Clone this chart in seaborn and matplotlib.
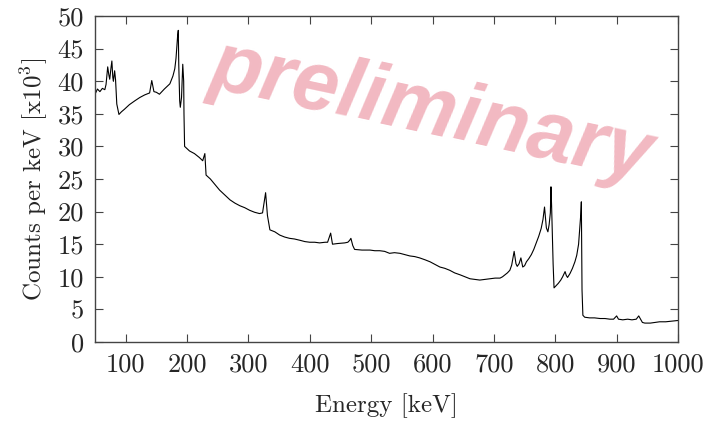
import matplotlib
matplotlib.use("Agg")
import matplotlib.pyplot as plt
import seaborn as sns
import pandas as pd

energy = [50, 54, 58, 62, 66, 68, 70.7, 72.5, 74, 76, 77.5, 79, 80, 82, 83.5, 85.5, 89, 93, 98, 106,
          115, 123, 131, 139, 142.5, 146, 150, 155, 163, 172, 177, 180, 182, 183.5, 184.5, 185.7,
          186.5, 188, 189, 191, 193, 194.5, 195, 196, 204, 212, 220, 225.5, 229, 231, 238, 245,
          253, 261, 270, 278, 286, 294, 302, 310, 318, 323, 328, 331, 335, 343, 351, 359, 367,
          375, 384, 392, 400, 408, 416, 425, 429, 434, 437, 445, 457, 462, 465, 467, 470, 473, 485,
          498, 506, 514, 522, 530, 538, 547, 555, 563, 571, 579, 588, 596, 604, 612, 620, 628,
          636, 645, 653, 661, 669, 677, 685, 694, 702, 710, 714, 718, 722, 726, 729, 733, 736,
          738, 741, 744, 747, 750, 753, 757, 761, 765, 769, 773, 777, 780, 782.5, 784, 785.5,
          788, 790, 792, 793, 794, 795, 796.5, 798, 801, 805, 809, 812, 816, 818, 820, 824, 828,
          832, 835, 838, 840, 841.5, 842.5, 843.6, 845, 848, 856, 864, 873, 881, 889, 895, 900,
          903, 910, 918, 925, 932, 936, 939, 942, 946, 955, 962, 970, 980, 990, 1000]
counts = [38.0, 38.8, 38.4, 38.9, 38.7, 39.5, 42.2, 41.0, 40.3, 42.0, 43.1, 40.6, 40.0, 41.6, 40.2,
          36.5, 34.9, 35.3, 35.7, 36.4, 37.0, 37.5, 37.9, 38.2, 40.1, 38.4, 38.3, 38.0, 38.8, 39.6,
          40.8, 41.9, 43.5, 45.5, 46.8, 47.8, 42.5, 37.0, 36.0, 37.5, 42.6, 40.0, 35.0, 30.0, 29.3,
          28.9, 28.3, 27.8, 28.9, 25.6, 25.0, 24.2, 23.3, 22.6, 21.8, 21.3, 20.9, 20.6, 20.2, 19.9,
          19.7, 19.8, 22.9, 19.4, 17.2, 16.9, 16.4, 16.1, 15.9, 15.8, 15.6, 15.4, 15.3, 15.3, 15.2,
          15.3, 15.3, 16.7, 15.0, 15.1, 15.2, 15.3, 15.6, 15.9, 14.8, 14.2, 14.1, 14.1, 14.0,
          14.0, 13.9, 13.6, 13.7, 13.6, 13.4, 13.2, 13.1, 12.9, 12.6, 12.3, 11.9, 11.5, 11.3,
          11.0, 10.6, 10.3, 10.0, 9.7, 9.6, 9.5, 9.6, 9.7, 9.8, 9.8, 10.0, 10.3, 10.6, 11.0, 11.8,
          13.9, 12.0, 11.6, 12.0, 12.9, 11.5, 11.7, 12.3, 12.8, 13.4, 14.2, 15.2, 16.2, 17.4,
          18.8, 20.7, 19.0, 17.5, 16.9, 18.0, 19.8, 23.8, 21.0, 17.5, 12.0, 8.3, 8.6, 9.0, 9.5,
          10.0, 10.8, 10.2, 9.9, 10.5, 11.3, 12.3, 13.3, 15.0, 17.5, 19.5, 21.5, 8.0, 4.1, 3.8,
          3.7, 3.7, 3.6, 3.6, 3.5, 3.5, 4.0, 3.5, 3.4, 3.5, 3.4, 3.5, 4.0, 3.5, 3.0, 2.9, 2.9,
          3.0, 3.1, 3.1, 3.2, 3.3]

x_ticks = [100, 200, 300, 400, 500, 600, 700, 800, 900, 1000]
y_ticks = [0, 5, 10, 15, 20, 25, 30, 35, 40, 45, 50]

df = pd.DataFrame({"Energy": energy, "Counts": counts})

sns.set_style("white")
plt.rcParams["font.family"] = ["cmr10", "DejaVu Serif"]
plt.rcParams["mathtext.fontset"] = "cm"
plt.rcParams["axes.unicode_minus"] = False
plt.rcParams["axes.formatter.use_mathtext"] = True

fig = plt.figure(figsize=(7.06, 4.22), dpi=100)
ax = fig.add_axes([95 / 706, 80 / 422, 583 / 706, 326 / 422])

sns.lineplot(data=df, x="Energy", y="Counts", ax=ax, color="black", linewidth=0.8,
             estimator=None, sort=False)

ax.set_xlim(50, 1000)
ax.set_ylim(0, 50)
ax.set_xticks(x_ticks)
ax.set_yticks(y_ticks)
ax.set_xticklabels([str(v) for v in x_ticks], fontsize=19)
ax.set_yticklabels([str(v) for v in y_ticks], fontsize=19)
ax.tick_params(direction="in", length=6, width=0.8, color="#444444",
               top=True, right=True, bottom=True, left=True, pad=8)
for s in ax.spines.values():
    s.set_color("#444444")
    s.set_linewidth(1.0)

ax.set_xlabel("Energy [keV]", fontsize=18, labelpad=12)
ax.set_ylabel(r"Counts per keV [x10$^3$]", fontsize=18, labelpad=5)

fig.text(0.612, 0.735, "preliminary", fontsize=60, fontweight="bold", style="italic",
         family="Liberation Sans", color="#f2b9c2", rotation=-12,
         ha="center", va="center", rotation_mode="anchor")

fig.savefig("out.png", dpi=100)
